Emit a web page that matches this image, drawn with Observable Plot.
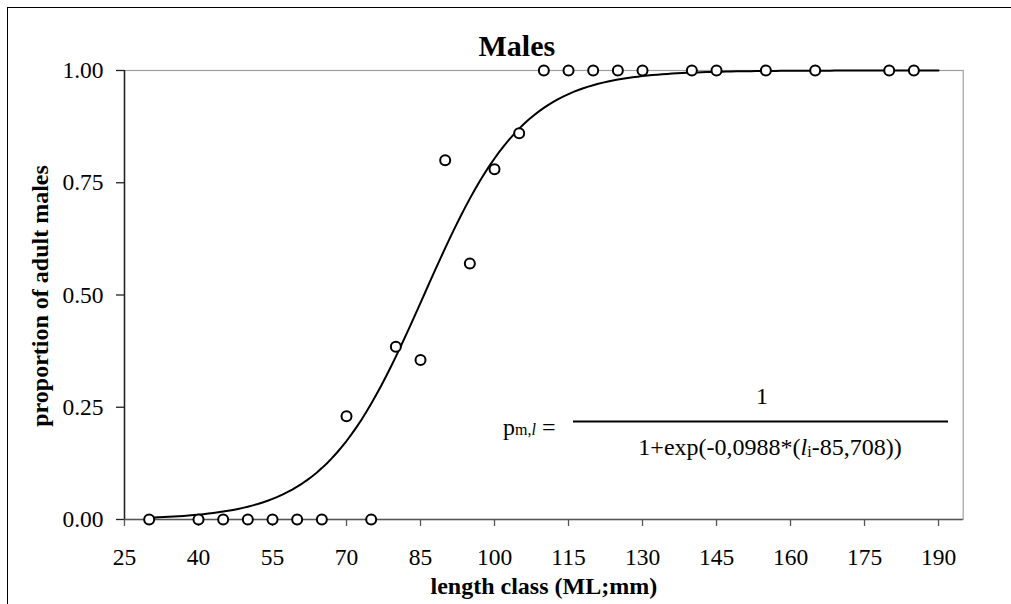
<!DOCTYPE html>
<html>
<head>
<meta charset="utf-8">
<script src="https://cdn.jsdelivr.net/npm/d3@7"></script>
<script src="https://cdn.jsdelivr.net/npm/@observablehq/plot@0.6"></script>
<style>
  html, body { margin: 0; padding: 0; background: #fff; }
  #chart { position: relative; width: 1011px; height: 604px; overflow: hidden; }
  #chart svg { position: absolute; left: 0; top: 0; }
  #edge { position: absolute; left: 6.5px; top: 6.5px; right: -4px; bottom: -4px;
          border-left: 1.5px solid #000; border-top: 1.5px solid #000; pointer-events: none; }
</style>
</head>
<body>
<div id="chart"></div>
<script>
// Observed proportion of adult males per length class (ML, mm)
const lengthClass = [30, 40, 45, 50, 55, 60, 65, 70, 75, 80, 85, 90, 95, 100, 105,
                     110, 115, 120, 125, 130, 140, 145, 155, 165, 180, 185];
const proportionAdult = [0, 0, 0, 0, 0, 0, 0, 0.23, 0, 0.385, 0.355, 0.80, 0.57, 0.78, 0.86,
                         1, 1, 1, 1, 1, 1, 1, 1, 1, 1, 1];

// Fitted logistic maturity ogive: p = 1 / (1 + exp(-slope * (l - l50)))
const slope = 0.0988;
const l50 = 85.708;
const curveFrom = 30;
const curveTo = 190;

const xTicks = [25, 40, 55, 70, 85, 100, 115, 130, 145, 160, 175, 190];
const yTicks = [0, 0.25, 0.5, 0.75, 1];

const titleText = "Males";
const xLabel = "length class (ML;mm)";
const yLabel = "proportion of adult males";

const observed = lengthClass.map((l, i) => ({l, p: proportionAdult[i]}));
const fitted = d3.range(curveFrom, curveTo + 0.5, 1)
  .map(l => ({l, p: 1 / (1 + Math.exp(-slope * (l - l50)))}));

const serif = "'Liberation Serif', 'Times New Roman', serif";

const chart = Plot.plot({
  width: 1011,
  height: 604,
  marginLeft: 124,
  marginRight: 48.3,
  marginTop: 70,
  marginBottom: 85,
  style: {fontFamily: serif, fontSize: "23.5px", color: "#000", background: "transparent"},
  x: {domain: [25, 195]},
  y: {domain: [0, 1]},
  marks: [
    Plot.frame({stroke: "#a0a0a0", strokeWidth: 1.2}),
    Plot.axisX({ticks: xTicks, tickSize: 7, tickPadding: 22, label: null,
                stroke: "#555", strokeWidth: 1.3, fill: "#000"}),
    Plot.axisY({ticks: yTicks, tickSize: 8, tickPadding: 13, label: null,
                tickFormat: d3.format(".2f"), stroke: "#222", strokeWidth: 1.3, fill: "#000"}),
    Plot.ruleY([0], {stroke: "#555", strokeWidth: 1.5}),
    Plot.ruleX([25], {stroke: "#222", strokeWidth: 1.5}),
    Plot.line(fitted, {x: "l", y: "p", stroke: "#000", strokeWidth: 2}),
    Plot.dot(observed, {x: "l", y: "p", r: 5, fill: "#fff", stroke: "#000", strokeWidth: 2}),
    Plot.text([titleText], {frameAnchor: "top", lineAnchor: "bottom", dx: -27, dy: -15,
                            fontSize: 30, fontWeight: "bold", fill: "#000"}),
    Plot.text([xLabel], {frameAnchor: "bottom", lineAnchor: "bottom", dy: 74,
                         fontSize: 24, fontWeight: "bold", fill: "#000"}),
    Plot.text([yLabel], {frameAnchor: "left", textAnchor: "middle", rotate: -90, dx: -84, dy: 1,
                         fontSize: 24, fontWeight: "bold", fill: "#000"})
  ]
});

// Equation of the fitted curve, written as a fraction
const eq = d3.select(chart).append("g")
  .attr("font-family", serif)
  .attr("font-size", 24)
  .attr("fill", "#000");

const lhs = eq.append("text").attr("x", 503).attr("y", 435).attr("text-anchor", "start");
lhs.append("tspan").text("p");
lhs.append("tspan").attr("font-size", 16).attr("dy", 0).text("m,");
lhs.append("tspan").attr("font-size", 16).attr("font-style", "italic").text("l");
lhs.append("tspan").attr("dx", 6).text("=");

eq.append("line")
  .attr("x1", 573).attr("x2", 948).attr("y1", 421.5).attr("y2", 421.5)
  .attr("stroke", "#000").attr("stroke-width", 2);

eq.append("text").attr("x", 762).attr("y", 404).attr("text-anchor", "middle").text("1");

const den = eq.append("text").attr("x", 770).attr("y", 455).attr("text-anchor", "middle");
den.append("tspan").text("1+exp(-0,0988*(");
den.append("tspan").attr("font-style", "italic").text("l");
den.append("tspan").attr("font-size", 16).attr("dy", 2).text("i");
den.append("tspan").attr("dy", -2).text("-85,708))");

const holder = document.getElementById("chart");
holder.appendChild(chart);
const edge = document.createElement("div");
edge.id = "edge";
holder.appendChild(edge);
</script>
</body>
</html>
